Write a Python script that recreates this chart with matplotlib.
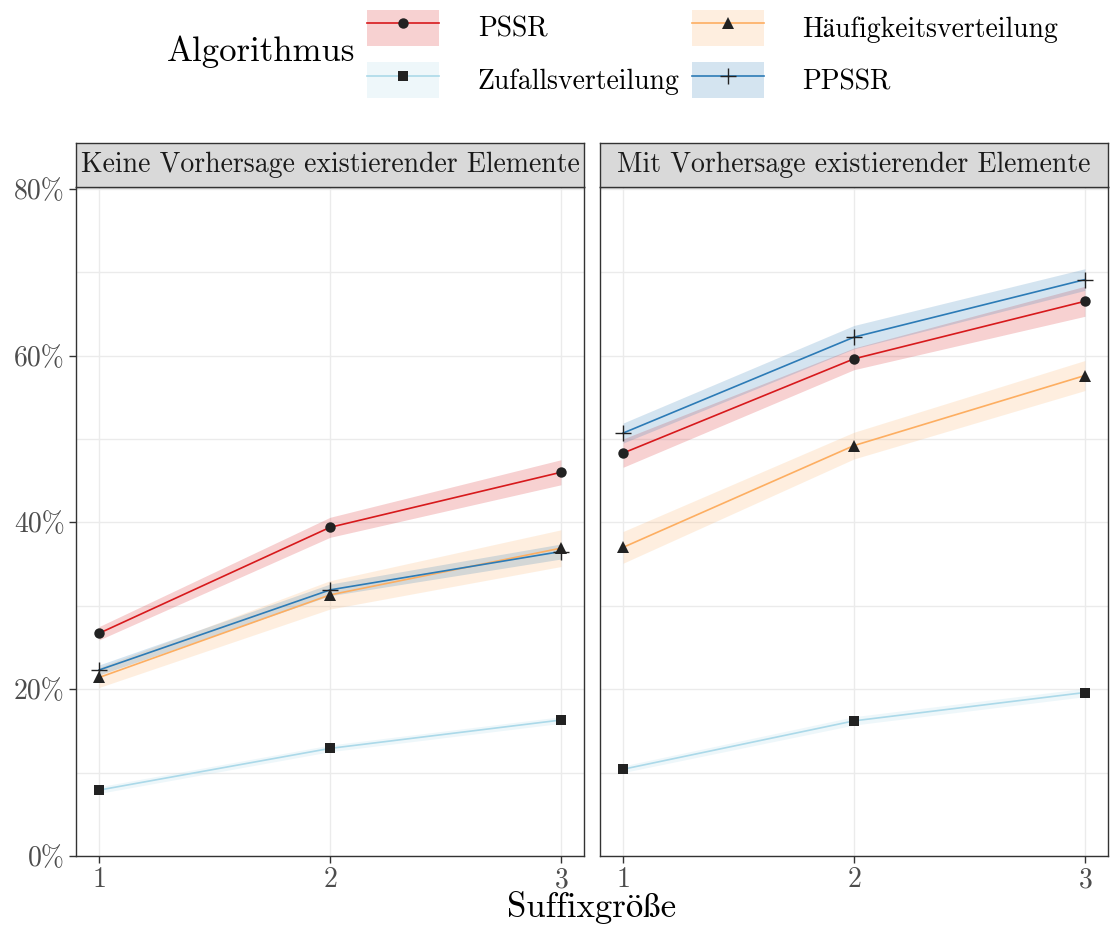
import numpy as np
import matplotlib
matplotlib.use("Agg")
import matplotlib.pyplot as plt
from matplotlib.patches import Patch
from matplotlib.lines import Line2D

# cmr10 for the look, STIX for umlauts / sharp s which cmr10.ttf lacks
plt.rcParams['font.family'] = ['cmr10', 'STIXGeneral', 'DejaVu Serif']
plt.rcParams['axes.formatter.use_mathtext'] = True

# data (Anteil in %)
sizes = [1, 2, 3]
panels = ["Keine Vorhersage existierender Elemente", "Mit Vorhersage existierender Elemente"]
algos = ["PSSR", "Zufallsverteilung", "Häufigkeitsverteilung", "PPSSR"]

pssr_mean = [[26.7, 39.4, 46.0], [48.3, 59.6, 66.5]]
pssr_err = [[0.8, 1.2, 1.5], [1.7, 1.3, 1.8]]
zufall_mean = [[7.9, 12.9, 16.3], [10.4, 16.2, 19.6]]
zufall_err = [[0.4, 0.4, 0.4], [0.4, 0.5, 0.5]]
haeuf_mean = [[21.4, 31.3, 36.9], [37.0, 49.2, 57.6]]
haeuf_err = [[1.2, 1.7, 2.2], [1.9, 1.6, 1.8]]
ppssr_mean = [[22.3, 31.9, 36.5], [50.7, 62.2, 69.1]]
ppssr_err = [[0.6, 0.7, 0.9], [1.2, 1.4, 1.3]]

means = {"PSSR": pssr_mean, "Zufallsverteilung": zufall_mean,
         "Häufigkeitsverteilung": haeuf_mean, "PPSSR": ppssr_mean}
errs = {"PSSR": pssr_err, "Zufallsverteilung": zufall_err,
        "Häufigkeitsverteilung": haeuf_err, "PPSSR": ppssr_err}

colors = {"PSSR": "#d7191c", "Zufallsverteilung": "#abd9e9",
          "Häufigkeitsverteilung": "#fdae61", "PPSSR": "#2c7bb6"}
markers = {"PSSR": "o", "Zufallsverteilung": "s",
           "Häufigkeitsverteilung": "^", "PPSSR": "+"}
msizes = {"PSSR": 7.5, "Zufallsverteilung": 7, "Häufigkeitsverteilung": 9, "PPSSR": 12}
draw_order = ["Zufallsverteilung", "Häufigkeitsverteilung", "PSSR", "PPSSR"]

W, H = 1112, 925
fig = plt.figure(figsize=(W / 100, H / 100), dpi=100)

panel_x = [76, 600]
panel_w = 508
top, bottom = 187, 856
strip_top = 143

for p, x0 in enumerate(panel_x):
    ax = fig.add_axes([x0 / W, 1 - bottom / H, panel_w / W, (bottom - top) / H])
    for a in draw_order:
        m = np.array(means[a][p])
        e = np.array(errs[a][p])
        ax.fill_between(sizes, m - e, m + e, color=colors[a], alpha=0.2, lw=0)
    for a in draw_order:
        m = np.array(means[a][p])
        ax.plot(sizes, m, color=colors[a], lw=1.2, zorder=3)
        ax.plot(sizes, m, ls='none', marker=markers[a], ms=msizes[a],
                color='#222222', mew=1.0 if a == "PPSSR" else 0, zorder=4)
    ax.set_xlim(0.9, 3.1)
    ax.set_ylim(0, 80.2)
    ax.set_xticks(sizes)
    ax.set_yticks([0, 20, 40, 60, 80])
    ax.set_yticks([10, 30, 50, 70], minor=True)
    ax.grid(True, which='both', color='#ebebeb', lw=1.0)
    ax.set_axisbelow(True)
    ax.tick_params(which='minor', length=0)
    ax.tick_params(which='major', length=5, color='#333333', width=1, pad=3,
                   labelsize=20, labelcolor='#4d4d4d')
    if p == 0:
        ax.set_yticklabels(["0%", "20%", "40%", "60%", "80%"])
    else:
        ax.set_yticklabels([])
        ax.tick_params(axis='y', length=0)
    for s in ax.spines.values():
        s.set_color('#333333')
        s.set_linewidth(1.0)

    sax = fig.add_axes([x0 / W, 1 - top / H, panel_w / W, (top - strip_top) / H])
    sax.set_facecolor('#d9d9d9')
    sax.set_xticks([])
    sax.set_yticks([])
    for s in sax.spines.values():
        s.set_color('#333333')
        s.set_linewidth(1.0)
    sax.text(0.5, 0.5, panels[p], ha='center', va='center', fontsize=20,
             color='#1a1a1a', transform=sax.transAxes)

fig.text(592 / W, 1 - 917 / H, "Suffixgröße", ha='center', va='baseline', fontsize=25)

# legend
handles = []
for a in algos:
    patch = Patch(facecolor=colors[a], alpha=0.2, edgecolor='none')
    line = Line2D([], [], color=colors[a], lw=1.2, marker=markers[a],
                  ms=msizes[a], mfc='#222222', mec='#222222',
                  mew=1.0 if a == "PPSSR" else 0)
    handles.append((patch, line))
fig.legend(handles, algos, ncol=2, loc='center left',
           bbox_to_anchor=(367 / W, 1 - 54 / H), frameon=False, fontsize=20,
           handlelength=2.59, handleheight=1.6, handletextpad=1.4,
           columnspacing=0.43, labelspacing=0.6, borderpad=0, borderaxespad=0)
fig.text(355 / W, 1 - 52 / H, "Algorithmus", ha='right', va='center', fontsize=25)

fig.savefig("out.png", dpi=100)
